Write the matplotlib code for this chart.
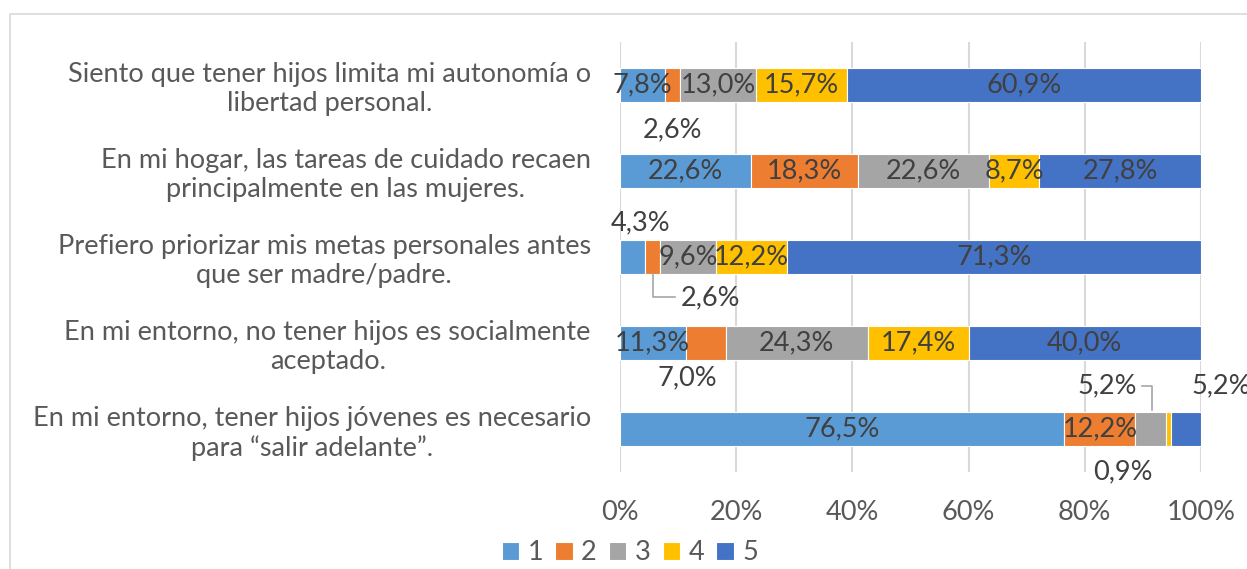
import numpy as np
import matplotlib.pyplot as plt
from matplotlib.patches import Rectangle

plt.rcParams['font.family'] = ['Lato', 'DejaVu Sans']

# preguntas (de arriba hacia abajo)
preguntas = [
    'Siento que tener hijos limita mi autonomía o\nlibertad personal.',
    'En mi hogar, las tareas de cuidado recaen\nprincipalmente en las mujeres.',
    'Prefiero priorizar mis metas personales antes\nque ser madre/padre.',
    'En mi entorno, no tener hijos es socialmente\naceptado.',
    'En mi entorno, tener hijos jóvenes es necesario\npara “salir adelante”.',
]
series = ['1', '2', '3', '4', '5']
v1 = [7.8, 22.6, 4.3, 11.3, 76.5]
v2 = [2.6, 18.3, 2.6, 7.0, 12.2]
v3 = [13.0, 22.6, 9.6, 24.3, 5.2]
v4 = [15.7, 8.7, 12.2, 17.4, 0.9]
v5 = [60.9, 27.8, 71.3, 40.0, 5.2]
colores = ['#5B9BD5', '#ED7D31', '#A5A5A5', '#FFC000', '#4472C4']

# etiquetas que van fuera de la barra: (fila, serie) -> (x, dy, ha)
fuera = {
    (0, 1): (9.1, 0.52, 'center'),
    (2, 0): (3.5, -0.40, 'center'),
    (2, 1): (10.4, 0.47, 'left'),
    (3, 1): (11.5, 0.41, 'center'),
    (4, 2): (89.0, -0.50, 'right'),
    (4, 3): (86.5, 0.50, 'center'),
    (4, 4): (103.5, -0.50, 'center'),
}

datos = [v1, v2, v3, v4, v5]
y = np.arange(len(preguntas))
txt = '#404040'
fs = 19.5

fig = plt.figure(figsize=(12.47, 5.69), dpi=100)
ax = fig.add_axes([0.4972, 0.1705, 0.4659, 0.7557])

izq = np.zeros(len(preguntas))
barras = []
for i, vals in enumerate(datos):
    b = ax.barh(y, vals, 0.4, left=izq, color=colores[i], edgecolor='white',
                linewidth=0.8, label=series[i], zorder=3)
    barras.append(b)
    for j, v in enumerate(vals):
        etq = ('%.1f%%' % v).replace('.', ',')
        if (j, i) in fuera:
            x, dy, ha = fuera[(j, i)]
            ax.text(x, y[j] + dy, etq, ha=ha, va='center', color=txt,
                    fontsize=fs, clip_on=False, zorder=4)
        else:
            ax.text(izq[j] + v / 2, y[j], etq, ha='center', va='center',
                    color=txt, fontsize=fs, zorder=4)
    izq += np.array(vals)

# lineas guia
gris = '#A6A6A6'
ax.plot([5.6, 5.6, 9.4], [2.2, 2.47, 2.47], color=gris, lw=1.2, zorder=4,
        clip_on=False)
ax.plot([89.8, 91.6, 91.6], [3.5, 3.5, 3.78], color=gris, lw=1.2, zorder=4,
        clip_on=False)

ax.set_xlim(0, 100)
ax.set_ylim(4.5, -0.5)
ax.set_xticks(np.arange(0, 101, 20))
ax.set_xticklabels(['%d%%' % t for t in range(0, 101, 20)])
ax.set_yticks(y)
ax.set_yticklabels(preguntas, multialignment='center')
ax.tick_params(axis='x', length=0, pad=20, labelsize=fs, colors='#595959')
ax.tick_params(axis='y', length=0, pad=21, labelsize=fs, colors='#595959')
ax.grid(axis='x', color='#D9D9D9', lw=1.5, zorder=0)
for s in ax.spines.values():
    s.set_visible(False)

fig.legend(handles=barras, labels=series, loc='center',
           bbox_to_anchor=(0.505, 1 - 553 / 569), ncol=5, frameon=False,
           fontsize=fs, handlelength=0.65, handleheight=0.65, handletextpad=0.3,
           columnspacing=0.45, labelcolor='#595959', borderpad=0)

fig.patches.append(Rectangle((10 / 1247, -0.1), 1.2, 1.1 - 14 / 569,
                             transform=fig.transFigure, fill=False,
                             edgecolor='#D9D9D9', lw=1.2))

fig.savefig('out.png', dpi=100)
